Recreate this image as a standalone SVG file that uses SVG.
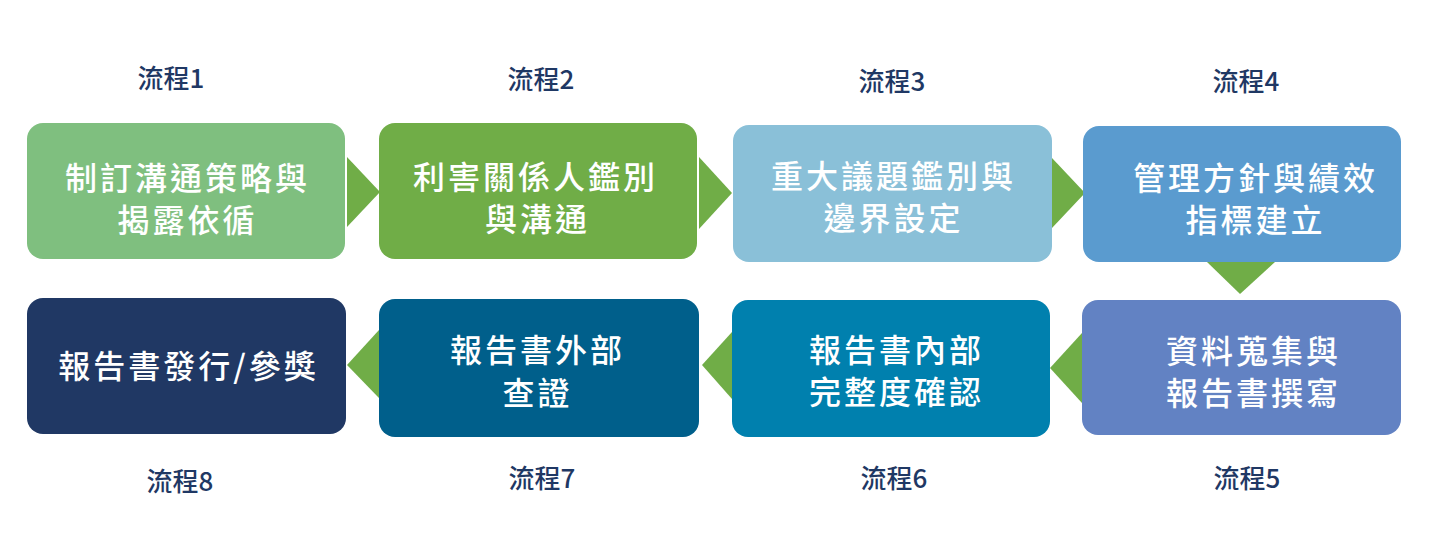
<svg xmlns="http://www.w3.org/2000/svg" width="1430" height="550" viewBox="0 0 1430 550">
<style>
.box{stroke:none}
.t{font-family:"Noto Sans CJK TC","Noto Sans CJK SC",sans-serif;font-size:32px;font-weight:500;fill:#ffffff;text-anchor:middle;letter-spacing:3px}
.lbl{font-family:"Noto Sans CJK TC","Noto Sans CJK SC",sans-serif;font-size:26px;font-weight:500;fill:#1f3864;text-anchor:middle}
.arr{fill:#70ad47}
</style>
<rect width="1430" height="550" fill="#ffffff"/>
<g id="connectors">
<polygon class="arr" points="347,157 380,192 347,227"/>
<polygon class="arr" points="699,157 732,193 699,229"/>
<polygon class="arr" points="1052,158 1085,193 1052,228"/>
<polygon class="arr" points="1207,262 1275,262 1240,294"/>
<polygon class="arr" points="1082,333 1050,368 1082,403"/>
<polygon class="arr" points="732,332 702,365 732,399"/>
<polygon class="arr" points="379,330 347,365 379,398"/>
</g>
<g id="node1">
<rect class="box" x="27" y="123" width="318" height="136" rx="16" fill="#7fbf7f"/>
<text class="t" x="187.5" y="190">制訂溝通策略與</text>
<text class="t" x="187.5" y="232">揭露依循</text>
<text class="lbl" x="171" y="88">流程1</text>
</g>
<g id="node2">
<rect class="box" x="379" y="123" width="318" height="136" rx="16" fill="#70ad47"/>
<text class="t" x="535.5" y="189">利害關係人鑑別</text>
<text class="t" x="537.5" y="231">與溝通</text>
<text class="lbl" x="541" y="89">流程2</text>
</g>
<g id="node3">
<rect class="box" x="733" y="125" width="319" height="137" rx="16" fill="#8ac0d8"/>
<text class="t" x="893.5" y="188">重大議題鑑別與</text>
<text class="t" x="893.5" y="230">邊界設定</text>
<text class="lbl" x="892" y="91">流程3</text>
</g>
<g id="node4">
<rect class="box" x="1083" y="126" width="318" height="136" rx="16" fill="#5a9bcf"/>
<text class="t" x="1255.5" y="190">管理方針與績效</text>
<text class="t" x="1255.5" y="232">指標建立</text>
<text class="lbl" x="1246" y="91">流程4</text>
</g>
<g id="node5">
<rect class="box" x="1082" y="300" width="319" height="135" rx="16" fill="#6282c3"/>
<text class="t" x="1253.5" y="363">資料蒐集與</text>
<text class="t" x="1253.5" y="405">報告書撰寫</text>
<text class="lbl" x="1247" y="488">流程5</text>
</g>
<g id="node6">
<rect class="box" x="732" y="300" width="318" height="137" rx="16" fill="#0080ae"/>
<text class="t" x="896.5" y="362">報告書內部</text>
<text class="t" x="896.5" y="404">完整度確認</text>
<text class="lbl" x="894" y="488">流程6</text>
</g>
<g id="node7">
<rect class="box" x="379" y="299" width="320" height="138" rx="16" fill="#005f8b"/>
<text class="t" x="537.5" y="362">報告書外部</text>
<text class="t" x="537.5" y="405">查證</text>
<text class="lbl" x="542" y="488">流程7</text>
</g>
<g id="node8">
<rect class="box" x="27" y="298" width="319" height="136" rx="16" fill="#203864"/>
<text class="t" x="188.5" y="378">報告書發行/參獎</text>
<text class="lbl" x="180" y="491">流程8</text>
</g>
</svg>
